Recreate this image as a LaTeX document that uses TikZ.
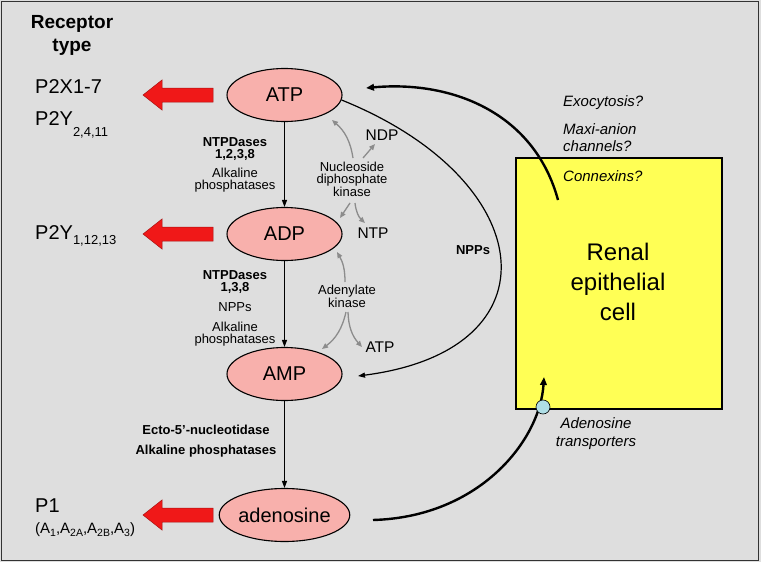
\documentclass[tikz,border=0pt]{standalone}
\usepackage{fontspec}
\setmainfont{Liberation Sans}
\usetikzlibrary{arrows.meta,shapes.geometric}
\definecolor{bggray}{RGB}{222,222,222}
\definecolor{molfill}{RGB}{248,176,172}
\definecolor{cellyellow}{RGB}{255,255,85}
\definecolor{arrowred}{RGB}{240,24,24}
\definecolor{kingray}{RGB}{140,140,140}
\definecolor{transblue}{RGB}{175,222,230}
\newcommand\fs[2]{\fontsize{#1}{#2}\selectfont}
\newcommand\subtxt[3]{\raisebox{-#1pt}{\fontsize{#2}{#2}\selectfont #3}}
\begin{document}
\begin{tikzpicture}[x=1pt,y=-1pt,
  mol/.style={ellipse,draw=black,line width=1.1pt,fill=molfill,minimum width=115pt,minimum height=53pt,inner sep=0pt,font=\fs{20}{24}},
  small/.style={font=\fs{13}{12},align=center,inner sep=0pt,anchor=north},
  smallb/.style={small,font=\bfseries\fs{13}{12}},
  rec/.style={font=\fs{20}{24},inner sep=0pt,anchor=base west},
  ital/.style={font=\itshape\fs{15}{17.5},inner sep=0pt},
  side/.style={font=\fs{15.5}{18},inner sep=0pt},
  flow/.style={line width=1.2pt,-{Triangle[length=7pt,width=5pt]}},
  thickflow/.style={line width=2.4pt,-{Triangle[length=8pt,width=6.5pt]}},
  gk/.style={draw=kingray,line width=1.3pt,-{Triangle[length=6pt,width=5pt]}},
  redarr/.pic={\filldraw[fill=arrowred,draw=arrowred!70!black,line width=0.5pt]
     (35,-7) -- (-16,-7) -- (-16,-15) -- (-35,0) -- (-16,15) -- (-16,7) -- (35,7) -- cycle;}
]
% background and frame
\fill[bggray] (0,0) rectangle (761,562);
\draw[line width=1.6pt,draw=black!80] (1.5,1.5) rectangle (758.5,560.5);

% receptor column
\node[font=\bfseries\fs{19}{23},align=center,inner sep=0pt,anchor=north] (rtype) at (72,15) {Receptor\\type};
\node[rec] (p2x) at (35,93) {P2X1-7};
\node[rec] (p2ya) at (35,125) {P2Y\subtxt{11}{13}{2,4,11}};
\node[rec] (p2yb) at (35,239) {P2Y\subtxt{5}{13}{1,12,13}};
\node[rec] (p1) at (35,512) {P1};
\node[rec,font=\fs{15}{18}] (p1sub) at (35,533) {(A\subtxt{3}{10.5}{1},A\subtxt{3}{10.5}{2A},A\subtxt{3}{10.5}{2B},A\subtxt{3}{10.5}{3})};

% fat red arrows
\pic at (178,95) {redarr};
\pic at (178,234) {redarr};
\pic at (178,515) {redarr};

% molecules
\node[mol] (atp) at (284.5,95) {ATP};
\node[mol] (adp) at (284.5,234) {ADP};
\node[mol] (amp) at (284.5,374) {AMP};
\node[mol] (ado) at (284.5,515) {adenosine};

\draw[flow] (atp) -- (adp);
\draw[flow] (adp) -- (amp);
\draw[flow] (amp) -- (ado);

% enzyme labels
\node[smallb] (e1a) at (235,137) {NTPDases\\1,2,3,8};
\node[small] (e1b) at (235,168) {Alkaline\\phosphatases};
\node[smallb] (e2a) at (235,270) {NTPDases\\1,3,8};
\node[small] (e2b) at (235,302) {NPPs};
\node[small] (e2c) at (235,322) {Alkaline\\phosphatases};
\node[smallb] (e3a) at (206,425) {Ecto-5’-nucleotidase};
\node[smallb] (e3b) at (206,445) {Alkaline phosphatases};

% kinases
\node[small] (ndk) at (352,162) {Nucleoside\\diphosphate\\kinase};
\node[side] (ndp) at (382,135) {NDP};
\node[side] (ntp) at (373,233) {NTP};
\node[small] (adk) at (347,285) {Adenylate\\kinase};
\node[side] (atpb) at (380,347) {ATP};

\coordinate (g1a) at (353,158); \coordinate (g1b) at (332,120);
\coordinate (g2a) at (363,158); \coordinate (g2b) at (375,144);
\coordinate (g3a) at (350,203); \coordinate (g3b) at (340,218);
\coordinate (g4a) at (355,203); \coordinate (g4b) at (365,223);
\coordinate (g5a) at (345,282); \coordinate (g5b) at (337,252);
\coordinate (g6a) at (346,312); \coordinate (g6b) at (322,349);
\coordinate (g7a) at (348,312); \coordinate (g7b) at (362,347);
\draw[gk] (g1a) to[bend right=20] (g1b);
\draw[gk] (g2a) -- (g2b);
\draw[gk] (g3a) -- (g3b);
\draw[gk] (g4a) to[bend right=20] (g4b);
\draw[gk] (g5a) to[bend right=15] (g5b);
\draw[gk] (g6a) to[bend left=20] (g6b);
\draw[gk] (g7a) to[bend right=20] (g7b);

% NPP bypass
\coordinate (ampin) at (358,376);
\draw[flow] (atp.-5) .. controls (540,180) and (560,350) .. (ampin);
\node[font=\bfseries\fs{13}{15},inner sep=0pt] (npps) at (473,250) {NPPs};

% renal cell
\node[draw=black,line width=2pt,fill=cellyellow,minimum width=206pt,minimum height=251pt,inner sep=0pt,anchor=north west] (cell) at (515,157) {};
\node[font=\fs{24}{30},align=center,inner sep=0pt,anchor=north] (celltxt) at (618,243) {Renal\\epithelial\\cell};

% release pathways
\node[ital,anchor=north west] (exo) at (563,95) {Exocytosis?};
\node[ital,anchor=north west,align=left] (maxi) at (563,123) {Maxi-anion\\channels?};
\node[ital,anchor=north west] (conn) at (563,170) {Connexins?};

\coordinate (cellout) at (558,200);
\coordinate (atpin) at (366,88);
\draw[thickflow] (cellout) .. controls (535,115) and (455,80) .. (atpin);

% adenosine uptake
\coordinate (adoout) at (373,520);
\coordinate (trin) at (544,377);
\draw[thickflow] (adoout) .. controls (480,517) and (540,440) .. (trin);
\node[circle,draw=black,line width=0.6pt,fill=transblue,minimum size=14pt,inner sep=0pt] (tr) at (543,407) {};
\node[ital,font=\itshape\fs{15}{18.5},align=center,anchor=north] (trtxt) at (596,417) {Adenosine\\transporters};
\end{tikzpicture}
\end{document}
